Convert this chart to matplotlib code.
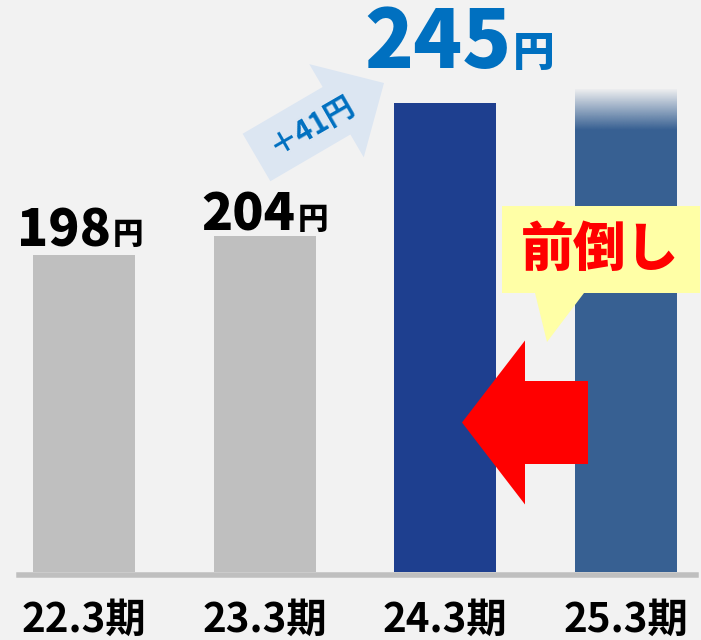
import numpy as np
import matplotlib.pyplot as plt
from matplotlib.patches import Polygon, FancyArrow

plt.rcParams['font.family'] = ['Noto Sans CJK JP', 'DejaVu Sans']

# 配当の推移（円）
periods = ['22.3期', '23.3期', '24.3期', '25.3期']
dividends = [198, 204, 245, 249]
value_labels = ['198', '204', '245', None]
callout_label = '前倒し'

bar_colors = ['#bfbfbf', '#bfbfbf', '#1e3f8f', '#376092']
bg = '#f2f2f2'

fig = plt.figure(figsize=(7.01, 6.4), dpi=100, facecolor=bg)

# 棒グラフ本体（縦軸は100円から）
px_per_unit = 3.234
spacing = 180.67
ax = fig.add_axes([0, 68 / 640, 1, 572 / 640])
ax.set_facecolor(bg)
y_lim = (100, 100 + 572 / px_per_unit)
x_lim = (-84 / spacing, (701 - 84) / spacing)

x = np.arange(len(periods))
width = 102 / spacing
fade = 12.4  # 25.3期の上端をぼかす幅

heights = list(dividends)
heights[-1] -= fade
ax.bar(x, heights, width, color=bar_colors, zorder=2)

# 25.3期の上部グラデーション
n = 64
grad = np.zeros((n, 1, 4))
grad[:, 0, :3] = np.array([0x37, 0x60, 0x92]) / 255
grad[:, 0, 3] = np.linspace(1, 0.03, n)
ax.imshow(grad, extent=(x[-1] - width / 2, x[-1] + width / 2,
                        heights[-1], dividends[-1]),
          origin='lower', aspect='auto', zorder=2, interpolation='bilinear')
ax.set_xlim(*x_lim)
ax.set_ylim(*y_lim)

for s in ax.spines.values():
    s.set_visible(False)
ax.set_yticks([])
ax.set_xticks(x, periods, fontsize=29, fontweight='bold')
ax.tick_params(axis='x', length=0, pad=43)
for t in ax.get_xticklabels():
    t.set_va('baseline')

# 横軸の線
ax.axhline(100 - 2.75 / px_per_unit, xmin=19 / 701, xmax=696 / 701,
           color='#bfbfbf', lw=5.5 * 0.72, clip_on=False, zorder=3)

# 金額ラベル
label_pos = [(27, 9), (31, 5), (66, 35)]
label_size = [(37, 22), (37, 22), (58, 30)]
label_color = ['black', 'black', '#0070c0']
for i, txt in enumerate(value_labels):
    if txt is None:
        continue
    dx, dy = label_pos[i]
    fs_num, fs_yen = label_size[i]
    ax.annotate(txt, (x[i], dividends[i]), xytext=(dx, dy),
                textcoords='offset pixels', ha='right', va='baseline',
                fontsize=fs_num, fontweight='black', color=label_color[i])
    ax.annotate('円', (x[i], dividends[i]), xytext=(dx + 2, dy + 2),
                textcoords='offset pixels', ha='left', va='baseline',
                fontsize=fs_yen, fontweight='black', color=label_color[i])

# 矢印と吹き出し（ピクセル座標のオーバーレイ）
ov = fig.add_axes([0, 0, 1, 1])
ov.set_xlim(0, 701)
ov.set_ylim(640, 0)
ov.axis('off')

ov.add_patch(FancyArrow(256.5, 157.5, 127.5, -74.5, width=55, head_width=108,
                        head_length=55, length_includes_head=True,
                        color='#dce6f2', lw=0))
increase = dividends[2] - dividends[1]
ov.text(312, 125, f'＋{increase}円', rotation=30, rotation_mode='anchor',
        ha='center', va='center', fontsize=21, fontweight='bold',
        color='#0070c0')

ov.add_patch(FancyArrow(588, 422.5, -126, 0, width=83, head_width=164,
                        head_length=63, length_includes_head=True,
                        color='#ff0000', lw=0))

ov.add_patch(Polygon([(502, 206), (700, 206), (700, 293), (584, 293),
                      (547, 342), (535, 293), (502, 293)],
                     closed=True, color='#ffffa6', lw=0))
ov.text(600, 250, callout_label, ha='center', va='center', fontsize=38,
        fontweight='black', color='#ff0000')

fig.savefig('out.png', dpi=100, facecolor=bg)
